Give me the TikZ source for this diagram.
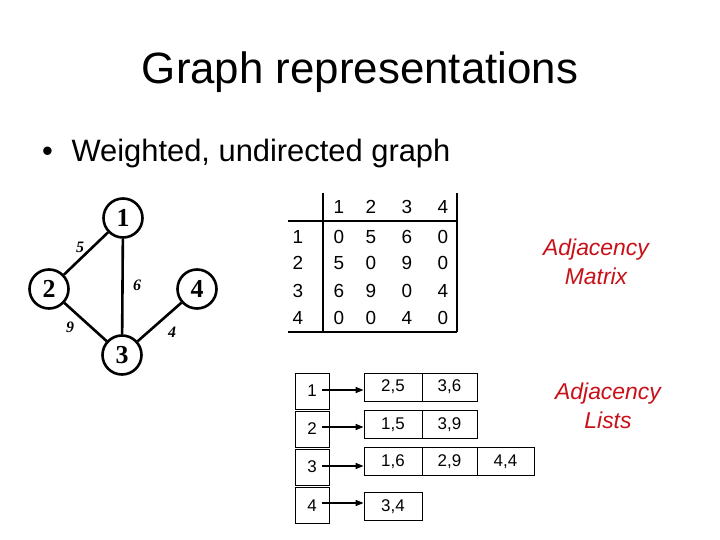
\documentclass[tikz,border=0pt]{standalone}
\usepackage{fontspec}
\setmainfont{Liberation Sans}
\newfontfamily\serifb{Liberation Serif}
\usetikzlibrary{arrows.meta}
\definecolor{adjred}{RGB}{200,16,24}
\begin{document}
\begin{tikzpicture}[x=1bp,y=-1bp,
  gnode/.style={circle,draw,line width=2.6bp,minimum size=39bp,inner sep=0pt,font=\serifb\fontsize{26}{26}\selectfont\bfseries},
  gedge/.style={line width=2.6bp},
  wlab/.style={font=\serifb\fontsize{16}{16}\selectfont\bfseries\itshape,inner sep=0pt},
  mtxt/.style={font=\fontsize{19}{19}\selectfont,inner sep=0pt,anchor=base},
  mline/.style={line width=1.8bp},
  lcell/.style={draw,line width=0.8bp,minimum height=28bp,inner sep=0pt,font=\fontsize{17}{17}\selectfont},
  hcell/.style={draw,line width=0.8bp,minimum width=34bp,minimum height=36bp,inner sep=0pt,font=\fontsize{17}{17}\selectfont},
  larrow/.style={-{Triangle[length=8bp,width=6bp]},line width=1.5bp},
  redlab/.style={font=\fontsize{23}{29}\selectfont\itshape,text=adjred,align=center,inner sep=0pt}
]
\useasboundingbox (0,0) rectangle (720,540);
\fill[white] (0,0) rectangle (720,540);
% title
\node[anchor=base,font=\fontsize{44}{44}\selectfont,inner sep=0pt] (title) at (360,84) {Graph representations};
\node[anchor=base west,font=\fontsize{31}{31}\selectfont,inner sep=0pt] (bullet) at (42,162) {•\hspace{0.6em}Weighted, undirected graph};
% graph
\node[gnode] (n1) at (123,218) {1};
\node[gnode] (n2) at (49,289) {2};
\node[gnode] (n4) at (197,289) {4};
\node[gnode] (n3) at (122,355) {3};
\draw[gedge] (n1) -- (n2);
\draw[gedge] (n1) -- (n3);
\draw[gedge] (n2) -- (n3);
\draw[gedge] (n4) -- (n3);
\node[wlab] (w5) at (80,247) {5};
\node[wlab] (w6) at (137,285) {6};
\node[wlab] (w9) at (70,327) {9};
\node[wlab] (w4) at (172,332) {4};
% matrix
\coordinate (mv1) at (323,193);
\coordinate (mv2) at (323,332);
\coordinate (mr1) at (457,193);
\coordinate (mr2) at (457,332);
\coordinate (mh1) at (288,221);
\coordinate (mh2) at (457,221);
\coordinate (mb1) at (288,332);
\draw[mline] (mv1) -- (mv2);
\draw[mline] (mr1) -- (mr2);
\draw[mline] (mh1) -- (mh2);
\draw[mline] (mb1) -- (mr2);
\foreach \c/\x in {1/339,2/371,3/407,4/443}{
  \node[mtxt] (ch\c) at (\x,214) {\c};
}
\foreach \r/\y in {1/244,2/270,3/297,4/324}{
  \node[mtxt] (rh\r) at (298,\y) {\r};
}
\foreach \r/\y/\a/\b/\c/\d in {1/244/0/5/6/0,2/270/5/0/9/0,3/297/6/9/0/4,4/324/0/0/4/0}{
  \node[mtxt] (m\r a) at (339,\y) {\a};
  \node[mtxt] (m\r b) at (371,\y) {\b};
  \node[mtxt] (m\r c) at (407,\y) {\c};
  \node[mtxt] (m\r d) at (443,\y) {\d};
}
\node[redlab] (am) at (596,262) {Adjacency\\Matrix};
\node[redlab] (al) at (608,406) {Adjacency\\Lists};
% lists
\node[hcell] (h1) at (312,391) {1};
\node[hcell] (h2) at (312,429) {2};
\node[hcell] (h3) at (312,467) {3};
\node[hcell] (h4) at (312,505.5) {4};
\node[lcell,minimum width=58bp] (c11) at (393,387) {2,5};
\node[lcell,minimum width=55bp] (c12) at (449.5,387) {3,6};
\node[lcell,minimum width=58bp] (c21) at (393,424.5) {1,5};
\node[lcell,minimum width=55bp] (c22) at (449.5,424.5) {3,9};
\node[lcell,minimum width=58bp] (c31) at (393,461.5) {1,6};
\node[lcell,minimum width=55bp] (c32) at (449.5,461.5) {2,9};
\node[lcell,minimum width=57bp] (c33) at (505.5,461.5) {4,4};
\node[lcell,minimum width=58bp] (c41) at (393,506.5) {3,4};
\foreach \i/\y in {1/390,2/427,3/466,4/503}{
  \coordinate (s\i) at (322,\y);
  \draw[larrow] (s\i) -- (s\i -| c\i 1.west);
}
\end{tikzpicture}
\end{document}
